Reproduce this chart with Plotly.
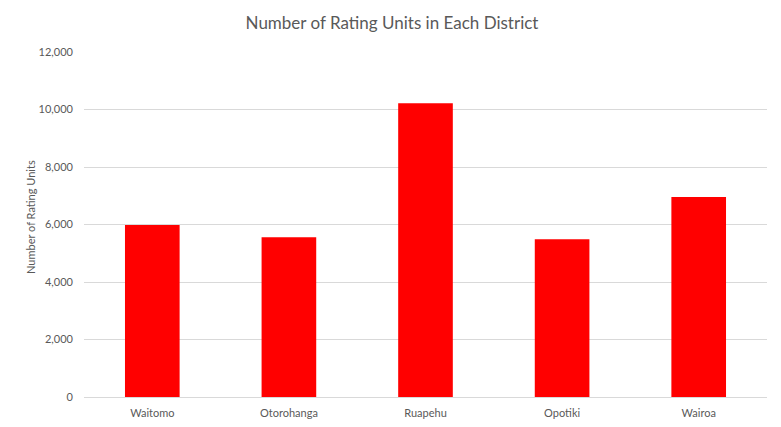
import plotly.graph_objects as go

districts = ['Waitomo', 'Otorohanga', 'Ruapehu', 'Opotiki', 'Wairoa']
rating_units = [5985, 5560, 10220, 5490, 6960]
y_ticks = [0, 2000, 4000, 6000, 8000, 10000, 12000]

# page body adds an 8px margin, so the figure is drawn from (8, 8)
off = 8
W, H = 781 - off, 427 - off
ml, mr, mt, mb = 84 - off, 14, 52 - off, 30

fig = go.Figure()

fig.add_trace(go.Bar(
    x=districts,
    y=rating_units,
    marker=dict(color='#ff0000', line=dict(width=0)),
    name='Rating Units',
))

grey = '#595959'

fig.update_layout(
    width=W,
    height=H,
    margin=dict(l=ml, r=mr, t=mt, b=mb),
    paper_bgcolor='white',
    plot_bgcolor='white',
    showlegend=False,
    bargap=0.6,
    font=dict(family='Lato, Open Sans, sans-serif', size=11, color=grey),
    title=dict(
        text='Number of Rating Units in Each District',
        x=(392 - off) / W, xref='container', xanchor='center',
        y=1 - (23 - off) / H, yref='container', yanchor='middle',
        font=dict(size=17, color=grey),
    ),
)

fig.update_yaxes(
    range=[0, 12000],
    tickvals=y_ticks,
    tickformat=',d',
    showgrid=True,
    gridcolor='#d9d9d9',
    gridwidth=1,
    zeroline=False,
    showline=False,
    ticks='',
    ticklabelstandoff=10,
    tickfont=dict(size=11, color=grey),
)

fig.update_xaxes(
    showline=True,
    linecolor='#d9d9d9',
    linewidth=1,
    ticks='',
    showgrid=False,
    automargin=False,
    ticklabelstandoff=6,
    tickfont=dict(size=11, color=grey),
)

pw = W - ml - mr
ph = H - mt - mb

# y axis title placed as rotated text
fig.add_annotation(
    text='Number of Rating Units',
    xref='paper', yref='paper',
    x=(30 - 84) / pw, y=(397 - 217) / ph,
    xanchor='center', yanchor='middle',
    textangle=-90, showarrow=False,
    font=dict(size=11, color=grey),
)

fig.write_html("out.html")
